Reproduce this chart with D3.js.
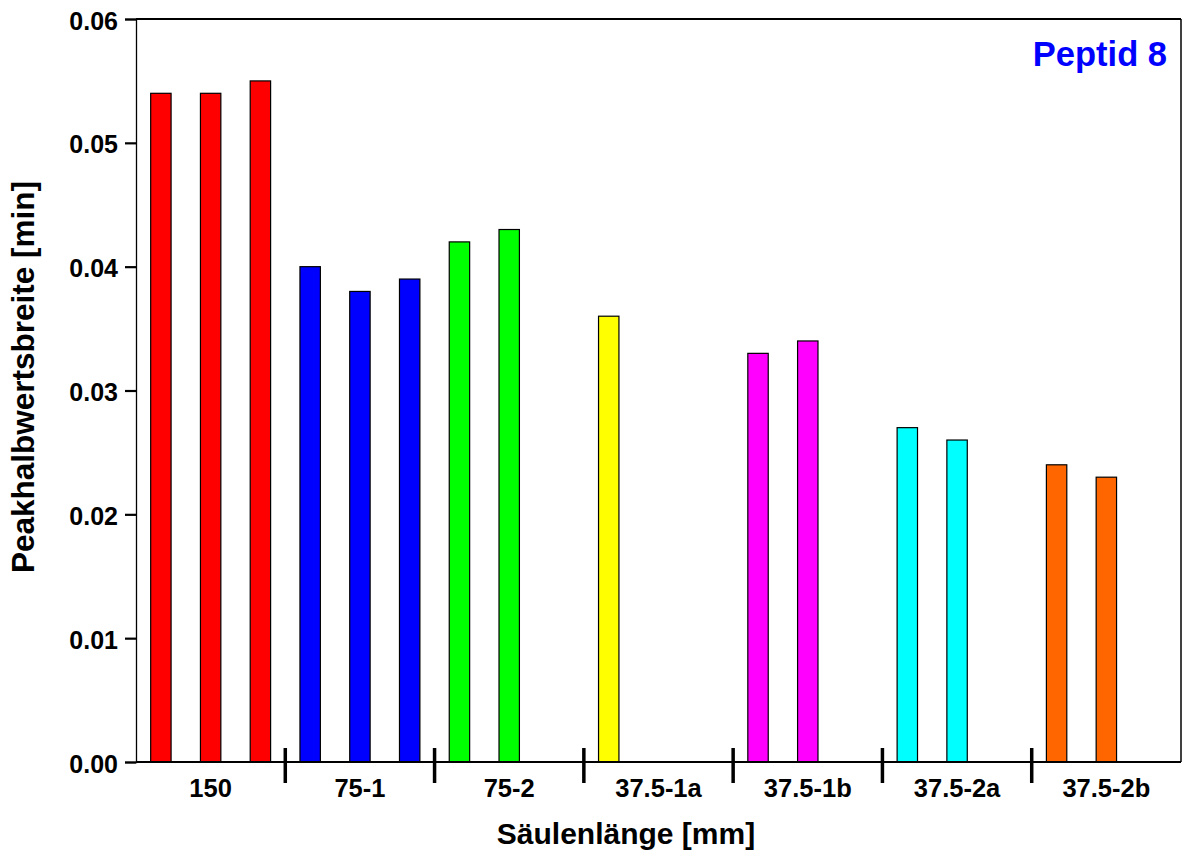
<!DOCTYPE html>
<html>
<head>
<meta charset="utf-8">
<script src="https://cdn.jsdelivr.net/npm/d3@7"></script>
<style>
  html, body { margin: 0; padding: 0; background: #fff; }
  svg { display: block; font-family: "Liberation Sans", Arial, sans-serif; font-weight: bold; }
</style>
</head>
<body>
<svg id="chart" width="1182" height="852"></svg>
<script>
// Column lengths (categories along the x axis)
const categories = ["150", "75-1", "75-2", "37.5-1a", "37.5-1b", "37.5-2a", "37.5-2b"];
// Peak width at half height [min], one entry per run of each column
const widths150    = [0.054, 0.054, 0.055];
const widths75_1   = [0.040, 0.038, 0.039];
const widths75_2   = [0.042, 0.043];
const widths37_1a  = [0.036];
const widths37_1b  = [0.033, 0.034];
const widths37_2a  = [0.027, 0.026];
const widths37_2b  = [0.024, 0.023];
const seriesValues = [widths150, widths75_1, widths75_2, widths37_1a, widths37_1b, widths37_2a, widths37_2b];
const seriesColors = ["#ff0000", "#0000ff", "#00ff00", "#ffff00", "#ff00ff", "#00ffff", "#ff6600"];
const yTicks = [0, 0.01, 0.02, 0.03, 0.04, 0.05, 0.06];
const runSlots = [0, 1, 2];

const svg = d3.select("#chart");
const plotLeft = 136, plotRight = 1181, plotTop = 19, plotBottom = 762;

const x = d3.scaleBand().domain(categories).range([plotLeft, plotRight]).padding(0);
const xRun = d3.scaleBand().domain(runSlots).range([0, x.bandwidth()])
  .paddingInner(0.59).paddingOuter(0.295);
const y = d3.scaleLinear().domain([0, 0.06]).range([plotBottom, plotTop]);

// Bars
const groups = svg.append("g").selectAll("g")
  .data(categories)
  .join("g")
  .attr("transform", d => `translate(${x(d)},0)`);

groups.selectAll("rect")
  .data((d, i) => seriesValues[i].map((v, j) => ({ v, j, color: seriesColors[i] })))
  .join("rect")
  .attr("x", d => xRun(d.j))
  .attr("width", xRun.bandwidth())
  .attr("y", d => y(d.v))
  .attr("height", d => y(0) - y(d.v))
  .attr("fill", d => d.color)
  .attr("stroke", "#000")
  .attr("stroke-width", 1.2);

// Frame: top and right border
svg.append("line").attr("x1", plotLeft).attr("x2", plotRight).attr("y1", plotTop).attr("y2", plotTop)
  .attr("stroke", "#000").attr("stroke-width", 2);
svg.append("line").attr("x1", plotRight).attr("x2", plotRight).attr("y1", plotTop).attr("y2", plotBottom)
  .attr("stroke", "#000").attr("stroke-width", 1.5);

// Y axis
const yAxis = svg.append("g")
  .attr("transform", `translate(${plotLeft},0)`)
  .call(d3.axisLeft(y).tickValues(yTicks).tickFormat(d3.format(".2f")).tickSize(11).tickPadding(7));
yAxis.select(".domain").attr("stroke-width", 1.3);
yAxis.selectAll(".tick line").attr("stroke-width", 2.2);
yAxis.selectAll(".tick text")
  .attr("font-size", 25).attr("font-weight", "bold").attr("font-family", "Liberation Sans, Arial, sans-serif")
  .attr("fill", "#000").attr("dy", "0.4em");

// X axis line
svg.append("line").attr("x1", plotLeft).attr("x2", plotRight).attr("y1", plotBottom).attr("y2", plotBottom)
  .attr("stroke", "#000").attr("stroke-width", 2.2);

// Group separators
svg.append("g").selectAll("line")
  .data(categories.slice(1))
  .join("line")
  .attr("x1", d => x(d)).attr("x2", d => x(d))
  .attr("y1", plotBottom - 14).attr("y2", plotBottom + 21)
  .attr("stroke", "#000").attr("stroke-width", 3.5);

// Category labels
svg.append("g").selectAll("text")
  .data(categories)
  .join("text")
  .attr("x", d => x(d) + x.bandwidth() / 2)
  .attr("y", 797)
  .attr("text-anchor", "middle")
  .attr("font-size", 25.5)
  .attr("fill", "#000")
  .text(d => d);

// Axis titles
svg.append("text")
  .attr("x", 626).attr("y", 844)
  .attr("text-anchor", "middle")
  .attr("font-size", 30)
  .text("Säulenlänge [mm]");

svg.append("text")
  .attr("transform", "translate(34,377) rotate(-90)")
  .attr("text-anchor", "middle")
  .attr("font-size", 31.5)
  .text("Peakhalbwertsbreite [min]");

// Panel label
svg.append("text")
  .attr("x", 1167).attr("y", 66)
  .attr("text-anchor", "end")
  .attr("font-size", 34.5)
  .attr("fill", "#0000ff")
  .text("Peptid 8");
</script>
</body>
</html>
